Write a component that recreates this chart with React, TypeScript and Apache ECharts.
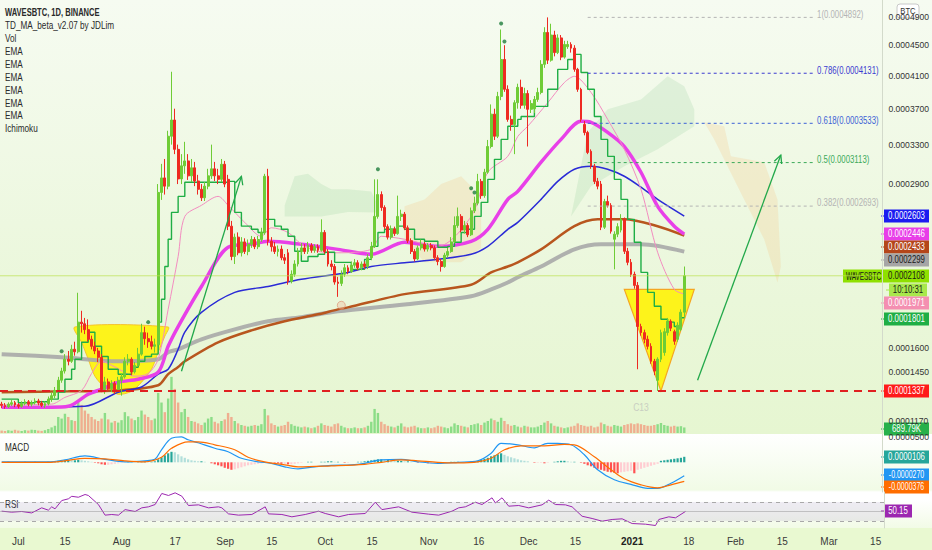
import React, { useEffect, useRef } from "react";
import * as echarts from "echarts";

// ---------------- DATA (prices in units of 1e-7 BTC) ----------------
const START_UTC = Date.UTC(2020, 5, 26);
const CATEGORY_COUNT = 265;
const PRICE_UNIT = 1e-7;
const MACD_UNIT = 1e-6;

const timeTicks: [string, string][] = [
  ["2020-07-01", "Jul"], ["2020-07-15", "15"], ["2020-08-01", "Aug"], ["2020-08-17", "17"],
  ["2020-09-01", "Sep"], ["2020-09-15", "15"], ["2020-10-01", "Oct"], ["2020-10-15", "15"],
  ["2020-11-01", "Nov"], ["2020-11-16", "16"], ["2020-12-01", "Dec"], ["2020-12-15", "15"],
  ["2021-01-01", "2021"], ["2021-01-18", "18"], ["2021-02-01", "Feb"], ["2021-02-15", "15"],
  ["2021-03-01", "Mar"], ["2021-03-15", "15"],
];

const priceAxisTicks = [4900, 4500, 4100, 3700, 3300, 2900, 1600, 1450, 1170];
const macdAxisTicks = [50];

// [open, close, low, high]
const candles: number[][] = [
  [1262,1255,1240,1275],[1255,1248,1236,1268],[1248,1262,1240,1272],[1262,1270,1252,1285],[1270,1258,1245,1280],
  [1258,1250,1238,1268],[1250,1265,1242,1278],[1265,1275,1255,1290],[1275,1262,1250,1285],[1262,1270,1248,1282],
  [1270,1280,1260,1295],[1280,1268,1255,1292],[1268,1255,1245,1280],[1255,1265,1240,1278],[1265,1290,1255,1305],
  [1290,1310,1275,1330],[1310,1340,1295,1360],
  [1340,1400,1330,1420],[1400,1455,1385,1475],[1455,1528,1440,1560],[1528,1515,1490,1580],[1515,1591,1505,1620],
  [1591,1575,1550,1640],[1575,1771,1565,1980],[1771,1760,1700,1850],[1760,1720,1690,1800],[1720,1656,1640,1790],
  [1656,1610,1590,1680],[1610,1580,1560,1640],[1580,1540,1510,1600],[1540,1345,1330,1560],[1345,1390,1320,1420],
  [1390,1350,1335,1410],[1350,1380,1330,1400],[1380,1345,1320,1395],[1345,1400,1330,1420],[1400,1420,1310,1440],
  [1420,1515,1410,1540],[1515,1528,1490,1560],[1528,1450,1430,1540],[1450,1490,1440,1510],[1490,1560,1480,1600],
  [1560,1700,1550,1760],[1700,1660,1620,1740],[1660,1640,1600,1700],[1640,1610,1590,1680],[1610,1620,1570,1660],
  [1620,2820,1610,2900],[2820,2960,2750,3100],[2960,2880,2800,3150],[2880,3390,2850,3450],[3390,3570,3300,4150],
  [3570,3250,3200,3700],[3250,2950,2900,3300],[2950,3080,2900,3200],[3080,3130,3000,3330],[3130,2980,2940,3200],
  [2980,3060,2920,3150],[3060,2930,2880,3120],[2930,2850,2800,2990],[2850,2770,2740,2900],[2770,2880,2740,2920],
  [2880,2980,2850,3050],[2980,3050,2950,3300],[3050,2980,2930,3120],[2980,2946,2900,3050],[2946,3096,2920,3150],
  [3096,2900,2870,3130],[2946,2514,2480,2990],[2514,2260,2230,2560],[2260,2420,2200,2450],[2420,2290,2270,2460],
  [2290,2380,2260,2420],[2380,2300,2280,2410],[2300,2360,2270,2400],[2360,2400,2330,2430],[2400,2340,2320,2420],
  [2340,2400,2320,2430],[2400,2460,2380,2500],[2460,2976,2440,3000],[2976,2385,2350,3050],[2385,2340,2300,2420],
  [2340,2300,2280,2380],[2300,2320,2260,2350],[2320,2250,2230,2350],[2250,2230,2200,2280],[2290,2065,2040,2320],
  [2065,2120,2050,2150],[2120,2200,2100,2230],[2200,2300,2180,2330],[2300,2330,2270,2370],[2330,2300,2280,2360],
  [2300,2350,2280,2380],[2350,2310,2290,2370],[2310,2340,2290,2360],[2340,2310,2290,2360],[2310,2460,2300,2574],
  [2460,2300,2280,2480],[2300,2200,2180,2320],[2200,2180,2150,2230],[2180,2060,2040,2200],[2060,2050,1950,2100],
  [2050,2120,2030,2150],[2120,2170,2100,2200],[2170,2140,2120,2190],[2140,2190,2130,2220],[2190,2210,2170,2240],
  [2210,2170,2150,2230],[2170,2200,2150,2220],[2200,2180,2160,2220],[2180,2250,2160,2280],[2250,2340,2230,2380],
  [2340,2600,2330,2946],[2600,2800,2580,2946],[2800,2680,2650,2830],[2680,2510,2490,2700],[2510,2420,2400,2530],
  [2420,2490,2400,2520],[2490,2450,2430,2510],[2450,2600,2440,2790],[2600,2620,2560,2660],[2620,2500,2480,2640],
  [2500,2390,2370,2520],[2390,2300,2280,2410],[2300,2240,2220,2320],[2240,2330,2230,2350],[2330,2360,2310,2400],
  [2360,2320,2300,2380],[2320,2350,2300,2370],[2350,2330,2310,2370],[2330,2250,2230,2350],[2250,2220,2190,2270],
  [2220,2180,2140,2240],[2180,2270,2170,2290],[2270,2300,2250,2330],[2300,2380,2290,2420],[2380,2520,2370,2600],
  [2520,2600,2500,2680],[2600,2480,2460,2620],[2480,2520,2450,2560],[2520,2440,2420,2540],[2440,2650,2430,2680],
  [2650,2720,2630,2780],[2720,2926,2700,3000],[2926,2790,2760,2950],[2790,3016,2770,3050],[3016,3280,3000,3350],
  [3280,3637,3260,3750],[3637,3390,3350,3700],[3390,3845,3370,3900],[3845,4309,3800,4718],[4309,3931,3900,4500],
  [3931,3577,3550,3980],[3577,3520,3450,3620],[3520,3770,3200,3800],[3770,3955,3700,4000],[3955,3740,3700,4050],
  [3740,3880,3700,3950],[3880,3693,3280,3920],[3693,3760,3650,3800],[3700,3809,3650,3850],[3809,3893,3780,3950],
  [3893,4245,3870,4300],[4245,4676,4200,4750],[4676,4300,4250,4892],[4300,4640,4280,4800],[4640,4400,4350,4700],
  [4400,4600,4380,4650],[4600,4340,4300,4640],[4340,4510,4320,4560],[4480,4510,4450,4560],[4510,4460,4400,4540],
  [4460,4181,4150,4500],[4181,3931,3900,4200],[3931,3577,3550,3950],[3520,3430,3400,3560],[3430,3218,3200,3450],
  [3230,3076,3050,3250],[3076,2926,2900,3100],[2926,2880,2850,2960],[2900,2505,2480,2930],[2505,2735,2490,2760],
  [2735,2700,2680,2790],[2700,2470,2450,2720],[2402,2445,2158,2470],[2445,2510,2420,2540],[2480,2574,2460,2620],
  [2574,2302,2280,2590],[2302,2213,2190,2330],[2213,2119,2100,2240],[2119,2035,2010,2140],[2035,1741,1466,2060],
  [1741,1700,1680,1760],[1700,1656,1630,1720],[1656,1610,1590,1680],[1610,1515,1500,1630],[1515,1455,1430,1530],
  [1400,1528,1337,1540],[1528,1700,1510,1720],[1570,1706,1550,1730],[1700,1777,1680,1800],[1777,1730,1710,1790],
  [1706,1643,1620,1720],[1656,1750,1640,1770],[1722,1840,1710,1860],[1840,2108,1800,2180],
];

// volume in thousands
const volumesK: number[] = [
  300,250,350,280,400,300,250,350,300,420,380,300,260,350,500,700,900,
  2000,1800,2400,2000,1600,1500,4000,3500,2800,2400,
  2000,1700,1500,1800,2500,1700,1300,1500,1300,1600,
  2600,2100,1800,1600,2000,2800,2300,2000,1600,1800,
  5000,3800,2600,4300,7000,5500,3800,2600,3000,2000,
  1500,1400,1200,1000,1300,1800,2000,1400,1200,1500,
  1700,2500,2000,1500,1200,1000,900,800,900,1000,
  900,1100,3000,2200,1200,1000,800,900,1000,1400,
  1100,900,800,700,800,700,600,700,900,1200,
  1000,900,800,1100,1200,900,700,600,600,700,
  600,600,700,900,1400,3000,2500,1400,1100,900,
  800,700,900,1200,800,700,800,900,700,600,
  600,700,600,700,900,800,700,600,800,1200,
  1000,900,800,700,1000,1100,1200,1000,1300,1500,
  1800,1600,1400,1900,1500,1100,900,1000,800,700,
  900,800,700,700,800,1000,1300,1500,1200,900,
  800,700,600,700,800,900,1200,1000,900,800,
  900,700,800,1300,1100,900,800,1000,900,800,
  1000,1100,1200,1100,1200,1100,1000,900,900,1000,
  1100,1250,1000,900,800,900,800,850,690,
];

// moving averages: [day index, price]
const emaGray: number[][] = [[0,1560],[18,1540],[35,1515],[47,1528],[50,1572],[53,1591],[60,1656],[70,1722],[80,1777],[90,1805],[101,1846],[121,1895],[141,1955],[147,2005],[152,2057],[155,2097],[162,2180],[172,2318],[180,2360],[192,2360],[205,2299]];
const emaBrown: number[][] = [[0,1330],[20,1335],[35,1340],[47,1370],[50,1436],[53,1480],[55,1515],[65,1636],[75,1715],[85,1777],[95,1825],[101,1860],[104,1874],[121,1970],[141,2040],[147,2134],[152,2180],[155,2213],[162,2318],[172,2514],[179,2574],[187,2574],[197,2514],[205,2433]];
const emaBlue: number[][] = [[0,1245],[25,1250],[35,1330],[42,1360],[47,1436],[50,1466],[53,1591],[55,1703],[60,1839],[70,1983],[80,2027],[90,2081],[104,2134],[111,2180],[121,2210],[131,2237],[141,2278],[146,2343],[152,2487],[155,2547],[162,2755],[167,2926],[172,3046],[177,3076],[182,3046],[187,2976],[192,2870],[197,2755],[205,2603]];
const emaMagenta: number[][] = [[0,1245],[15,1245],[20,1250],[26,1318],[30,1347],[35,1388],[41,1406],[47,1448],[50,1610],[53,1741],[60,2027],[68,2335],[75,2360],[80,2385],[90,2360],[101,2318],[111,2278],[121,2377],[131,2343],[141,2385],[146,2487],[152,2755],[155,2830],[162,3117],[168,3356],[174,3555],[177,3544],[182,3433],[187,3280],[192,3016],[197,2691],[202,2514],[205,2446]];
const emaPink: number[][] = [[0,1258],[15,1262],[19,1300],[24,1340],[27,1440],[30,1515],[34,1480],[40,1424],[44,1440],[47,1528],[50,1860],[53,2260],[55,2600],[60,2700],[65,2783],[68,2700],[73,2547],[78,2427],[81,2500],[86,2460],[90,2360],[95,2302],[101,2290],[111,2318],[114,2427],[121,2402],[131,2343],[141,2600],[146,3016],[152,3177],[155,3388],[158,3500],[164,3770],[169,4015],[172,4092],[177,3893],[182,3577],[187,3250],[192,2850],[197,2294],[202,2005],[205,1971]];
const tdStop: number[][] = [[0,1290],[5,1270],[10,1275],[14,1290],[17,1330],[19,1406],[21,1466],[22,1528],[24,1636],[26,1703],[28,1610],[30,1545],[32,1466],[35,1436],[39,1478],[41,1515],[43,1545],[45,1560],[47,1771],[48,1932],[49,2180],[50,2402],[51,2636],[53,2783],[55,2917],[68,2926],[70,2636],[72,2514],[75,2487],[77,2460],[79,2574],[82,2514],[84,2487],[86,2427],[88,2302],[90,2222],[92,2260],[95,2278],[97,2294],[100,2213],[105,2158],[109,2237],[111,2343],[113,2460],[115,2487],[119,2514],[121,2487],[124,2402],[127,2385],[131,2335],[134,2343],[136,2377],[138,2460],[140,2487],[142,2600],[144,2727],[146,2946],[148,3146],[150,3356],[152,3500],[155,3577],[156,3610],[160,3727],[164,3931],[167,4181],[170,4309],[172,4376],[174,4140],[176,3931],[178,3610],[180,3356],[182,3177],[184,2946],[186,2755],[188,2574],[190,2377],[192,2134],[194,1983],[196,1882],[198,1791],[200,1771],[202,1741],[204,1801],[205,1801]];

// TD marker dots above candles and a marker circle on the slow EMA
const tdDots: number[][] = [[18,1578],[44,1771],[113,3046],[141,2859],[142,2820],[150,4803],[151,4551]];
const emaMarks: number[][] = [[102,1889]];

// MACD (units of 1e-6 BTC)
const macdLine: number[][] = [[0,1],[14,1],[19,5],[25,13],[31,6],[37,1],[43,3],[46,6],[48,25],[51,48],[54,51],[56,45],[59,39],[64,28],[68,21],[72,8],[77,1],[81,-2],[85,-9],[89,-13],[94,-9],[99,-6],[105,-5],[109,-2],[114,5],[120,6],[125,1],[131,-2],[137,0],[143,3],[147,18],[150,38],[155,35],[160,29],[164,38],[167,38],[171,35],[175,15],[179,-15],[184,-35],[189,-44],[194,-52],[197,-52],[201,-42],[205,-27]];
const signalLine: number[][] = [[0,0],[14,0],[19,3],[25,8],[31,7],[37,3],[43,1],[48,10],[51,28],[56,41],[59,41],[64,35],[70,25],[74,10],[79,1],[85,-5],[89,-9],[99,-7],[109,-4],[114,0],[120,5],[125,3],[131,0],[137,-1],[143,1],[147,8],[151,25],[156,33],[163,33],[169,36],[172,35],[178,11],[183,-15],[187,-33],[192,-45],[197,-51],[201,-45],[205,-38]];
const macdHist: number[] = [
  0,0,1,0,-1,0,0,1,0,0,1,0,0,0,1,
  1,2,3,4,4,5,4,4,5,4,3,2,
  1,-1,-2,-4,-5,-5,-4,-3,-2,-1,
  0,1,1,0,1,1,2,1,1,
  2,6,10,14,18,21,20,
  16,12,9,6,4,3,2,2,1,0,
  -2,-4,-6,-8,-11,-13,-15,-14,-12,-10,-8,-6,-5,
  -4,-3,-2,-1,-1,0,-1,-2,-3,-3,
  -4,-4,-3,-2,-1,0,1,1,0,0,1,1,
  2,2,1,1,0,-1,-1,0,0,1,1,2,
  3,4,5,6,6,5,5,4,3,
  3,3,2,2,1,0,-1,
  -1,-1,-2,-2,-2,-1,-1,0,0,1,1,1,0,0,0,
  1,2,3,5,7,9,12,14,16,18,
  15,12,10,8,6,4,3,2,
  0,-1,-1,-1,-2,-1,0,
  1,2,3,3,2,
  1,1,0,-1,
  -3,-6,-8,-11,-13,-15,-17,-19,-20,-21,-22,
  -20,-19,-18,-17,-22,-15,-13,-11,-9,-7,-5,-3,
  3,4,5,6,7,8,9,11,
];

// RSI
const rsiLine: number[][] = [[0,50.7],[3,48.6],[6,50],[9,47],[12,57.7],[14,52.8],[15,59.8],[16,55.6],[18,73],[20,76.7],[21,82],[23,80],[25,85.8],[26,83.7],[29,64.7],[31,42.3],[33,43.7],[35,42.3],[37,54],[40,50],[42,57.7],[44,59.8],[46,64.7],[48,87.9],[50,83.7],[52,89.3],[54,82.3],[56,62.6],[59,64],[62,57.7],[65,59.8],[66,57.7],[68,45],[71,42.3],[75,43.7],[79,59.8],[80,45],[84,43.7],[87,38.8],[91,43.7],[95,50.7],[97,45.8],[101,38.8],[104,43.7],[109,45.8],[112,69.6],[114,54],[119,59.8],[123,48.6],[128,44.4],[131,42.3],[135,50.7],[137,57.7],[139,59.8],[142,69.6],[144,64.7],[147,78.8],[148,68],[150,78.8],[152,61.2],[155,62.6],[158,57.7],[162,64],[164,73.9],[166,64.7],[169,64],[171,59.8],[174,40],[177,35.3],[180,29.6],[183,33.2],[186,34.6],[189,24.7],[193,23.3],[196,20.5],[197,33.2],[200,38.8],[202,36.7],[205,50.15]];

// drawings
const fibLevels: [string, number][] = [["1", 4892], ["0.786", 4131], ["0.618", 3533], ["0.5", 3113], ["0.382", 2693]];
const fibSpan = [176, 244];
const supportPrice = 1337;
const lastPrice = 2108;
const cupOutline: number[][] = [[22,1738],[24,1636],[26,1528],[28,1424],[31,1359],[35,1318],[39,1335],[42,1388],[45,1466],[47,1572],[49,1676],[50,1738]];
const wedge: number[][] = [[187,2005],[208,2005],[198,1337]];
const arrows: number[][][] = [[[54,1454],[72,2975]], [[209,1400],[234,3190]]];
const clouds: { pts: number[][]; kind: string }[] = [
  { kind: "bull", pts: [[85,2700],[88,2976],[92,3000],[96,2900],[99,2850],[104,2850],[111,2830],[113,2700],[113,2636],[104,2640],[96,2600],[85,2600]] },
  { kind: "bear", pts: [[121,2691],[127,2755],[132,2900],[138,2976],[141,2880],[144,2600],[144,2330],[138,2213],[127,2213],[121,2400]] },
  { kind: "bull", pts: [[171,2600],[176,3433],[182,3693],[192,3809],[200,4092],[205,3970],[208,3693],[208,3500],[197,3250],[187,3076],[177,2878],[171,2600]] },
  { kind: "bear", pts: [[211,3544],[217,3500],[219,3177],[229,3117],[233,2755],[234,2180],[233,2057],[229,2402],[221,2878],[214,3356]] },
];
const seqLabel: [string, number, number] = ["C13", 192, 1240];

const legendLines = ["WAVESBTC, 1D, BINANCE", "TD_MA_beta_v2.07 by JDLim", "Vol", "EMA", "EMA", "EMA", "EMA", "EMA", "EMA", "Ichimoku"];
const symbolName = "WAVESBTC";

const priceTags: { text: string; y: number; bg: string; fg: string }[] = [
  { text: "0.0002603", y: 216, bg: "#1c1cf0", fg: "#ffffff" },
  { text: "0.0002446", y: 234, bg: "#e83ee8", fg: "#ffffff" },
  { text: "0.0002433", y: 247, bg: "#b4461a", fg: "#ffffff" },
  { text: "0.0002299", y: 260, bg: "#a6a6a6", fg: "#1a1a1a" },
  { text: "0.0002108", y: 276, bg: "#8fe000", fg: "#1a1a1a" },
  { text: "10:10:31", y: 290, bg: "#a9e84c", fg: "#1a1a1a" },
  { text: "0.0001971", y: 303, bg: "#f48fb1", fg: "#ffffff" },
  { text: "0.0001801", y: 319, bg: "#1fae45", fg: "#ffffff" },
  { text: "0.0001337", y: 391, bg: "#ff1a1a", fg: "#ffffff" },
  { text: "689.79K", y: 429, bg: "#27b04a", fg: "#ffffff" },
  { text: "0.0000106", y: 457, bg: "#26a69a", fg: "#ffffff" },
  { text: "-0.0000270", y: 475, bg: "#2196f3", fg: "#ffffff" },
  { text: "-0.0000376", y: 487, bg: "#ff6d00", fg: "#ffffff" },
  { text: "50.15", y: 511, bg: "#9c27b0", fg: "#ffffff" },
];

// ---------------- helpers ----------------
const FONT = "'Liberation Sans', Arial, sans-serif";
const NARROW = 0.78;
const T = (p: number) => Math.log(p + 1000);
const fromT = (v: number) => Math.exp(v) - 1000;
const fmtPrice = (p: number) => (Math.round(p) * PRICE_UNIT).toFixed(7);

const categories: string[] = Array.from({ length: CATEGORY_COUNT }, (_, i) =>
  new Date(START_UTC + i * 86400000).toISOString().slice(0, 10)
);
const tickMap = new Map<string, string>(timeTicks);

const UP = "#6fcc36";
const DOWN = "#ee2a22";

function buildOption(): any {
  const mainLine = (data: number[][], color: string, width: number, extra: any = {}) => ({
    type: "line",
    xAxisIndex: 0,
    yAxisIndex: 0,
    data: data.map(([j, p]) => [j, T(p)]),
    symbol: "none",
    smooth: 0.3,
    silent: true,
    lineStyle: { color, width },
    z: 3,
    ...extra,
  });

  const histColors = macdHist.map((v, i) => {
    const prev = i > 0 ? macdHist[i - 1] : 0;
    if (v >= 0) return v >= prev ? "#26a69a" : "#b2dfdb";
    return v < prev ? "#ff5252" : "#ffcdd2";
  });

  const yAxisBase = {
    type: "value",
    position: "right",
    splitLine: { show: false },
    axisTick: { show: false },
    axisLine: { show: true, lineStyle: { color: "#d3dacb" } },
  };

  const xAxes = [0, 1, 2].map((i) => ({
    type: "category",
    gridIndex: i,
    data: categories,
    boundaryGap: true,
    axisLine: { show: false },
    axisTick: { show: false },
    splitLine: { show: false },
    axisPointer: { show: false },
    axisLabel:
      i === 2
        ? {
            show: true,
            interval: (_idx: number, val: string) => tickMap.has(val),
            formatter: (val: string) => {
              const t = tickMap.get(val) || "";
              return t === "2021" ? "{b|2021}" : t;
            },
            rich: { b: { fontWeight: "bold", fontSize: 10, color: "#222", fontFamily: FONT } },
            color: "#3a3a3a",
            fontSize: 10,
            fontFamily: FONT,
            margin: 8,
          }
        : { show: false },
  }));

  const txt = (text: string, x: number, y: number, o: any = {}) => ({
    type: "text",
    x,
    y,
    silent: true,
    scaleX: o.scaleX ?? NARROW,
    style: {
      text,
      fill: o.fill ?? "#2a2a2a",
      fontSize: o.fontSize ?? 10.5,
      fontWeight: o.fontWeight ?? "normal",
      fontFamily: FONT,
      align: o.align ?? "left",
      verticalAlign: "middle",
    },
  });

  return {
    animation: false,
    backgroundColor: "transparent",
    tooltip: { show: false },
    grid: [
      { left: 0, right: 48, top: 0, height: 433 },
      { left: 0, right: 48, top: 434, height: 58 },
      { left: 0, right: 48, top: 492, height: 36 },
    ],
    xAxis: xAxes,
    yAxis: [
      {
        ...yAxisBase,
        gridIndex: 0,
        min: T(1106),
        max: T(5151),
        axisLabel: {
          customValues: priceAxisTicks.map(T),
          formatter: (v: number) => fmtPrice(fromT(v)),
          color: "#333",
          fontSize: 8.6,
          fontFamily: FONT,
          margin: 6,
        },
      },
      { type: "value", gridIndex: 0, min: 0, max: 54000, show: false },
      {
        ...yAxisBase,
        gridIndex: 1,
        min: -59.4,
        max: 56.6,
        axisLabel: {
          customValues: macdAxisTicks,
          formatter: (v: number) => (v * MACD_UNIT).toFixed(7),
          color: "#333",
          fontSize: 8.6,
          fontFamily: FONT,
          margin: 6,
        },
      },
      { ...yAxisBase, gridIndex: 2, min: 15.26, max: 91.05, axisLabel: { show: false } },
    ],
    series: [
      // ichimoku clouds
      {
        type: "custom",
        xAxisIndex: 0,
        yAxisIndex: 0,
        silent: true,
        z: 1,
        data: [[0, T(1500)]],
        renderItem: (_params: any, api: any) => ({
          type: "group",
          children: clouds.map((c) => ({
            type: "polygon",
            shape: { points: c.pts.map(([j, p]) => api.coord([j, T(p)])) },
            style: { fill: c.kind === "bull" ? "rgba(120,190,130,0.16)" : "rgba(250,170,90,0.17)" },
          })),
        }),
      },
      // yellow drawings
      {
        type: "custom",
        xAxisIndex: 0,
        yAxisIndex: 0,
        silent: true,
        z: 2,
        data: [[0, T(1500)]],
        renderItem: (_params: any, api: any) => {
          const lp = api.coord([seqLabel[1], T(seqLabel[2])]);
          return {
            type: "group",
            children: [
              {
                type: "polygon",
                shape: { points: cupOutline.map(([j, p]) => api.coord([j, T(p)])), smooth: 0.3 },
                style: { fill: "rgba(255,242,0,0.88)", stroke: "rgba(245,190,40,0.9)", lineWidth: 1 },
              },
              {
                type: "polygon",
                shape: { points: wedge.map(([j, p]) => api.coord([j, T(p)])) },
                style: { fill: "rgba(255,242,0,0.88)", stroke: "#f5a623", lineWidth: 1.2 },
              },
              {
                type: "text", x: lp[0], y: lp[1], scaleX: 0.85,
                style: { text: seqLabel[0], fill: "#c9cfc2", fontSize: 10, fontFamily: FONT, align: "center", verticalAlign: "middle" },
              },
            ],
          };
        },
      },
      // volume
      {
        type: "bar",
        xAxisIndex: 0,
        yAxisIndex: 1,
        silent: true,
        z: 2,
        barWidth: 2.4,
        data: volumesK.map((v, i) => ({
          value: v,
          itemStyle: { color: candles[i][1] >= candles[i][0] ? "rgba(110,212,110,0.75)" : "rgba(242,150,120,0.75)" },
        })),
      },
      mainLine(emaGray, "rgba(168,168,168,0.9)", 4),
      mainLine(emaBrown, "#b8561e", 2.5),
      mainLine(emaBlue, "#2a2ad6", 1.5),
      mainLine(emaMagenta, "#e840e8", 3.5),
      mainLine(emaPink, "#f38cc0", 1),
      mainLine(tdStop, "#1fae45", 1.4, { smooth: false, step: "end" }),
      // candles
      {
        type: "candlestick",
        xAxisIndex: 0,
        yAxisIndex: 0,
        silent: true,
        z: 4,
        barWidth: 2.4,
        data: candles.map(([o, c, l, h]) => [T(o), T(c), T(l), T(h)]),
        itemStyle: { color: UP, color0: DOWN, borderColor: UP, borderColor0: DOWN, borderWidth: 1 },
      },
      {
        type: "scatter",
        xAxisIndex: 0,
        yAxisIndex: 0,
        silent: true,
        z: 5,
        symbolSize: 4,
        data: tdDots.map(([j, p]) => [j, T(p)]),
        itemStyle: { color: "#1f7d3c" },
      },
      {
        type: "scatter",
        xAxisIndex: 0,
        yAxisIndex: 0,
        silent: true,
        z: 5,
        symbol: "circle",
        symbolSize: 8,
        data: emaMarks.map(([j, p]) => [j, T(p)]),
        itemStyle: { color: "rgba(240,190,160,0.5)", borderColor: "rgba(220,140,110,0.8)", borderWidth: 1 },
      },
      // overlay: fib, support, price line, arrows
      {
        type: "custom",
        xAxisIndex: 0,
        yAxisIndex: 0,
        silent: true,
        z: 6,
        data: [[0, T(1500)]],
        renderItem: (params: any, api: any) => {
          const cs = params.coordSys;
          const children: any[] = [];
          const fibColors: Record<string, string> = {
            "1": "#b4b4b4", "0.786": "#3b3bd0", "0.618": "#3d62d6", "0.5": "#3caa5a", "0.382": "#b4b4b4",
          };
          fibLevels.forEach(([r, p]) => {
            const a = api.coord([fibSpan[0], T(p)]);
            const b = api.coord([fibSpan[1], T(p)]);
            const col = fibColors[r];
            children.push({ type: "line", shape: { x1: a[0], y1: a[1], x2: b[0], y2: b[1] }, style: { stroke: col, lineWidth: 1, lineDash: [3, 3] } });
            children.push({
              type: "text", x: b[0] + 3, y: a[1] - 3, scaleX: NARROW,
              style: { text: `${r}(${fmtPrice(p)})`, fill: col, fontSize: 10, fontFamily: FONT, align: "left", verticalAlign: "middle" },
            });
          });
          const ys = api.coord([0, T(supportPrice)])[1];
          children.push({ type: "line", shape: { x1: cs.x, y1: ys, x2: cs.x + cs.width - 4, y2: ys }, style: { stroke: "#e02020", lineWidth: 2, lineDash: [8, 6] } });
          const yp = api.coord([0, T(lastPrice)])[1];
          children.push({ type: "line", shape: { x1: cs.x, y1: yp, x2: cs.x + cs.width, y2: yp }, style: { stroke: "rgba(190,225,80,0.7)", lineWidth: 1 } });
          arrows.forEach(([s, e]) => {
            const [x1, y1] = api.coord([s[0], T(s[1])]);
            const [x2, y2] = api.coord([e[0], T(e[1])]);
            const len = Math.hypot(x2 - x1, y2 - y1);
            const ux = (x2 - x1) / len, uy = (y2 - y1) / len;
            const size = 9, ang = 0.45;
            const wing = (a: number) => [
              x2 - size * (ux * Math.cos(a) - uy * Math.sin(a)),
              y2 - size * (uy * Math.cos(a) + ux * Math.sin(a)),
            ];
            children.push({ type: "line", shape: { x1, y1, x2, y2 }, style: { stroke: "#22a84a", lineWidth: 1.3 } });
            children.push({ type: "polyline", shape: { points: [wing(ang), [x2, y2], wing(-ang)] }, style: { stroke: "#22a84a", lineWidth: 1.3, fill: null } });
          });
          return { type: "group", children };
        },
      },
      // MACD
      {
        type: "bar",
        xAxisIndex: 1,
        yAxisIndex: 2,
        silent: true,
        barWidth: 2.2,
        data: macdHist.map((v, i) => ({ value: v, itemStyle: { color: histColors[i] } })),
      },
      {
        type: "line", xAxisIndex: 1, yAxisIndex: 2, silent: true, symbol: "none", smooth: 0.35,
        data: macdLine, lineStyle: { color: "#2196f3", width: 1.2 }, z: 3,
      },
      {
        type: "line", xAxisIndex: 1, yAxisIndex: 2, silent: true, symbol: "none", smooth: 0.35,
        data: signalLine, lineStyle: { color: "#ff6d00", width: 1.2 }, z: 3,
      },
      // RSI
      {
        type: "line", xAxisIndex: 2, yAxisIndex: 3, silent: true, symbol: "none",
        data: rsiLine, lineStyle: { color: "#9c27b0", width: 1 }, z: 3,
        markArea: { silent: true, itemStyle: { color: "rgba(150,125,185,0.15)" }, data: [[{ yAxis: 30 }, { yAxis: 70 }]] },
        markLine: {
          silent: true, symbol: "none", label: { show: false },
          data: [
            { yAxis: 70, lineStyle: { color: "#a9a9a9", type: [4, 4], width: 1 } },
            { yAxis: 30, lineStyle: { color: "#a9a9a9", type: [4, 4], width: 1 } },
            { yAxis: 50, lineStyle: { color: "rgba(150,150,150,0.5)", type: "solid", width: 1 } },
          ],
        },
      },
    ],
    graphic: [
      ...legendLines.map((t, i) =>
        txt(t, 5, 12.3 + i * 12.9, { fontWeight: i === 0 ? "bold" : "normal", scaleX: i === 0 ? 0.72 : NARROW })
      ),
      txt("MACD", 5, 447),
      txt("RSI", 5, 504),
      { type: "rect", silent: true, shape: { x: 897, y: 4, width: 22, height: 14, r: 3 }, style: { fill: "#ffffff", stroke: "#c8c8c8", lineWidth: 1 } },
      txt("BTC", 908, 11, { fontSize: 9, align: "center", fill: "#333", scaleX: 0.85 }),
      { type: "rect", silent: true, shape: { x: 843, y: 269.5, width: 41, height: 13 }, style: { fill: "#8fe000" } },
      txt(symbolName, 863.5, 276, { fontSize: 10, align: "center", fill: "#1a1a1a", scaleX: 0.64 }),
      ...priceTags.flatMap((t) => {
        const w = t.text === "50.15" ? 28 : t.text === "10:10:31" ? 38 : 45;
        const x = t.text === "10:10:31" ? 889 : 884;
        return [
          { type: "line", silent: true, shape: { x1: x - 3, y1: t.y, x2: x, y2: t.y }, style: { stroke: t.bg, lineWidth: 1 } },
          { type: "rect", silent: true, shape: { x, y: t.y - 6.5, width: w, height: 13 }, style: { fill: t.bg } },
          txt(t.text, x + w / 2, t.y, { fontSize: 10, align: "center", fill: t.fg, scaleX: t.text.length > 9 ? 0.7 : NARROW }),
        ];
      }),
    ],
  };
}

const BG =
  "linear-gradient(to bottom, #f6fbf1 0px, #eaf7da 300px, #e6f6d1 434px, #ffffff 434px, #f1fbe6 490px, #ffffff 492px, #ffffff 500px, #f2fbe6 528px, #e9f9d1 528px, #e9f9d1 550px)";

export default function App() {
  const ref = useRef<HTMLDivElement>(null);
  useEffect(() => {
    document.body.style.margin = "0";
    if (!ref.current) return;
    const chart = echarts.init(ref.current, null, { renderer: "svg" });
    chart.setOption(buildOption());
    return () => chart.dispose();
  }, []);
  return (
    <div style={{ position: "fixed", left: 0, top: 0, width: 932, height: 550, background: BG, overflow: "hidden" }}>
      <div ref={ref} style={{ width: 932, height: 550 }} />
    </div>
  );
}
